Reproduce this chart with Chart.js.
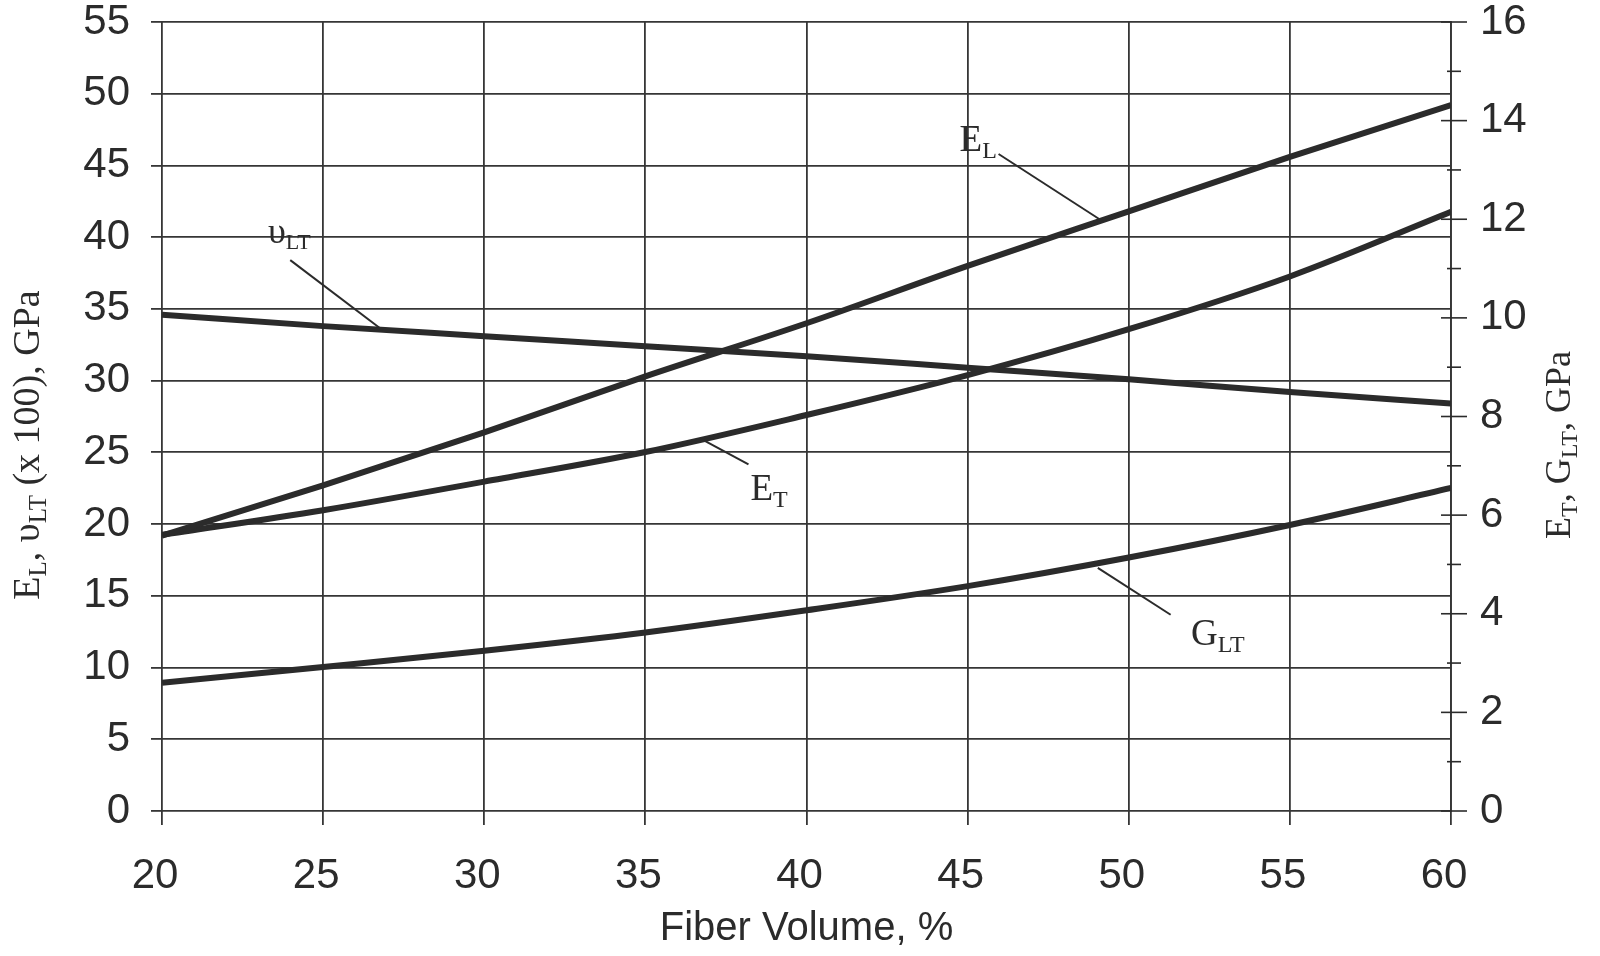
<!DOCTYPE html>
<html>
<head>
<meta charset="utf-8">
<script src="https://cdn.jsdelivr.net/npm/chart.js@4.4.0/dist/chart.umd.min.js"></script>
<style>
  html, body { margin: 0; padding: 0; background: #fff; }
  #wrap { width: 1600px; height: 956px; }
</style>
</head>
<body>
<div id="wrap"><canvas id="chart" width="1600" height="956"></canvas></div>
<script>
// data (fiber volume, %)
const fiberVolume = [20, 25, 30, 35, 40, 45, 50, 55, 60];
// left axis (GPa, and Poisson ratio x100)
const eL = [19.2, 22.7, 26.4, 30.3, 34.0, 38.0, 41.8, 45.6, 49.2];
const nuLT = [34.6, 33.8, 33.1, 32.4, 31.7, 30.9, 30.1, 29.2, 28.4];
// right axis (GPa)
const eT = [5.6, 6.1, 6.68, 7.28, 8.03, 8.84, 9.77, 10.84, 12.15];
const gLT = [2.6, 2.92, 3.25, 3.62, 4.07, 4.56, 5.14, 5.8, 6.55];

const ink = '#2b2b2b';
const gridInk = '#363636';
const sans = '"Liberation Sans", Arial, sans-serif';
const serif = '"Liberation Serif", "Times New Roman", serif';

function toPoints(vals) {
  return fiberVolume.map((x, i) => ({ x: x, y: vals[i] }));
}

// curve labels, placed in data units: [text, font size, baseline shift]
const notes = [
  { parts: [['E', 37, 0], ['L', 24, 7]], axis: 'y', at: [44.75, 46.0], from: [45.96, 45.8], to: [49.13, 41.2] },
  { parts: [['\u03C5', 36, 0], ['LT', 22, 6]], axis: 'y', at: [23.29, 39.6], from: [23.98, 38.4], to: [26.86, 33.5] },
  { parts: [['E', 37, 0], ['T', 24, 7]], axis: 'y1', at: [38.26, 6.31], from: [36.83, 7.51], to: [38.2, 7.03] },
  { parts: [['G', 37, 0], ['LT', 24, 7]], axis: 'y1', at: [51.93, 3.37], from: [49.04, 4.93], to: [51.3, 3.98] }
];

function drawParts(ctx, parts, x, y) {
  parts.forEach(function (p) {
    ctx.font = p[1] + 'px ' + serif;
    ctx.fillText(p[0], x, y + p[2]);
    x += ctx.measureText(p[0]).width;
  });
}
function partsWidth(ctx, parts) {
  var w = 0;
  parts.forEach(function (p) {
    ctx.font = p[1] + 'px ' + serif;
    w += ctx.measureText(p[0]).width;
  });
  return w;
}
function drawRotated(ctx, parts, cx, cy) {
  ctx.save();
  ctx.translate(cx, cy);
  ctx.rotate(-Math.PI / 2);
  drawParts(ctx, parts, -partsWidth(ctx, parts) / 2, 12);
  ctx.restore();
}

const extras = {
  id: 'extras',
  afterDraw(chart) {
    const ctx = chart.ctx;
    const xs = chart.scales.x;
    const y1 = chart.scales.y1;
    const ax = chart.chartArea.right;
    ctx.save();
    ctx.fillStyle = ink;
    ctx.strokeStyle = ink;
    ctx.textAlign = 'left';
    ctx.textBaseline = 'alphabetic';

    // right axis tick marks, long on labelled values
    ctx.lineWidth = 1.6;
    y1.ticks.forEach(function (t) {
      const py = y1.getPixelForValue(t.value);
      const major = t.value % 2 === 0;
      ctx.beginPath();
      ctx.moveTo(ax - (major ? 10 : 4), py);
      ctx.lineTo(ax + (major ? 16 : 10), py);
      ctx.stroke();
    });

    // axis titles with subscripts
    drawRotated(ctx, [['E', 38, 0], ['L', 25, 7], [', \u03C5', 38, 0], ['LT', 25, 7], [' (x 100), GPa', 38, 0]], 27, 445);
    drawRotated(ctx, [['E', 36, 0], ['T', 24, 7], [', G', 36, 0], ['LT', 24, 7], [', GPa', 36, 0]], 1558, 445);

    // curve labels and leader lines
    ctx.lineWidth = 2;
    notes.forEach(function (n) {
      const ys = chart.scales[n.axis];
      drawParts(ctx, n.parts, xs.getPixelForValue(n.at[0]), ys.getPixelForValue(n.at[1]));
      ctx.beginPath();
      ctx.moveTo(xs.getPixelForValue(n.from[0]), ys.getPixelForValue(n.from[1]));
      ctx.lineTo(xs.getPixelForValue(n.to[0]), ys.getPixelForValue(n.to[1]));
      ctx.stroke();
    });
    ctx.restore();
  }
};

const lineStyle = {
  borderColor: ink,
  borderWidth: 6,
  pointRadius: 0,
  fill: false,
  cubicInterpolationMode: 'monotone',
  borderCapStyle: 'butt'
};

// keep tick labels from pushing the plot area in
function fixVertical(w) {
  return function (s) {
    s.width = w;
    s.paddingTop = 0;
    s.paddingBottom = 0;
  };
}

new Chart(document.getElementById('chart'), {
  type: 'line',
  data: {
    datasets: [
      Object.assign({ label: 'EL', data: toPoints(eL), yAxisID: 'y' }, lineStyle),
      Object.assign({ label: 'vLT', data: toPoints(nuLT), yAxisID: 'y' }, lineStyle),
      Object.assign({ label: 'ET', data: toPoints(eT), yAxisID: 'y1' }, lineStyle),
      Object.assign({ label: 'GLT', data: toPoints(gLT), yAxisID: 'y1' }, lineStyle)
    ]
  },
  options: {
    responsive: false,
    animation: false,
    events: [],
    layout: { padding: { top: 22, left: 0, right: 0, bottom: 0 } },
    plugins: {
      legend: { display: false },
      tooltip: { enabled: false }
    },
    scales: {
      x: {
        type: 'linear',
        min: 20,
        max: 60,
        afterFit: function (s) { s.height = 145; },
        grid: { color: gridInk, lineWidth: 1.8, tickLength: 14 },
        border: { display: false },
        ticks: {
          stepSize: 5,
          color: ink,
          padding: 30,
          labelOffset: -7,
          maxRotation: 0,
          font: { family: sans, size: 42, lineHeight: 1 }
        },
        title: {
          display: true,
          text: 'Fiber Volume, %',
          color: ink,
          font: { family: sans, size: 40, lineHeight: 1.2 },
          padding: { top: 0, bottom: 3 }
        }
      },
      y: {
        position: 'left',
        min: 0,
        max: 55,
        afterFit: fixVertical(162),
        grid: { color: gridInk, lineWidth: 1.8, tickLength: 11 },
        border: { display: false },
        ticks: {
          stepSize: 5,
          color: ink,
          padding: 21,
          font: { family: sans, size: 42, lineHeight: 1 }
        }
      },
      y1: {
        position: 'right',
        min: 0,
        max: 16,
        afterFit: fixVertical(149),
        grid: { drawOnChartArea: false, color: 'rgba(0,0,0,0)', tickLength: 14 },
        border: { color: gridInk, width: 1.8 },
        ticks: {
          stepSize: 1,
          autoSkip: false,
          color: ink,
          padding: 15,
          font: { family: sans, size: 42, lineHeight: 1 },
          callback: function (v) { return v % 2 === 0 ? v : ''; }
        }
      }
    }
  },
  plugins: [extras]
});
</script>
</body>
</html>
